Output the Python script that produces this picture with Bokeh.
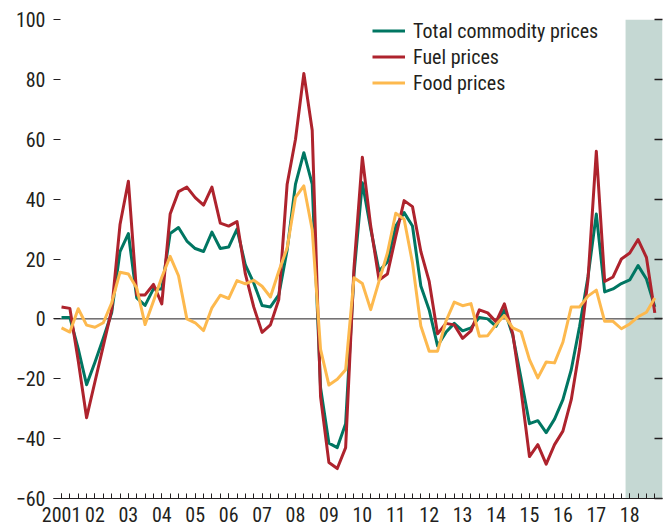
from bokeh.plotting import figure
from bokeh.models import (FixedTicker, LinearAxis, Range1d, BoxAnnotation, Span,
                          Legend, LegendItem)
from bokeh.embed import file_html
from bokeh.resources import INLINE

# ---------------- data (quarterly, percent change y/y) ----------------
first_year = 2001
n_quarters = 72  # 2001Q1 .. 2018Q4
quarters = [f"{first_year + i // 4}Q{i % 4 + 1}" for i in range(n_quarters)]

total_commodity = [
    0.5, 0.5, -10, -22, -14.5, -6.5, 2, 22.5, 28.5, 7,
    4.5, 10, 10, 28.5, 30.5, 26, 23.5, 22.5, 29, 23.5,
    24, 30, 18, 12, 4.5, 4, 8, 23, 45, 55.5,
    45, -23, -41.5, -43, -35, 15, 45.5, 30, 16, 19,
    31, 35.5, 31, 11, 3, -9, -4.5, -1.5, -4, -3,
    0.5, 0, -2.5, 3, -5.5, -20, -35, -34, -38, -33.5,
    -27, -17, -2.5, 14, 35, 9, 10, 11.8, 13, 17.8,
    13.3, 4,
]
fuel = [
    4, 3.5, -14, -33, -21, -9, 3, 31.5, 46, 8,
    8, 11.5, 5, 35, 42.5, 44, 40.5, 38, 44, 32,
    31, 32.5, 15, 4, -4.5, -2, 6.5, 45, 60, 82,
    63, -26, -48, -50, -43, 17, 54, 31, 13, 15,
    27.5, 39.5, 37.5, 22.5, 12.5, -5, -1.5, -2, -6.5, -4,
    3, 2, -1, 5, -5, -24, -46, -42, -48.5, -42,
    -37.5, -27, -10, 13, 56, 12.5, 14, 20, 22, 26.5,
    20.5, 2,
]
food = [
    -3, -4.4, 3.4, -2.1, -2.8, -1.3, 5.3, 15.6, 15, 10.3,
    -1.9, 5.9, 13.9, 20.9, 14.4, 0, -1.3, -3.9, 3.7, 7.9,
    6.8, 12.8, 11.7, 12.9, 10.9, 7.3, 15.9, 23.7, 40.6, 44.4,
    29.8, -10.2, -22.1, -20.2, -17, 13.7, 11.8, 3.1, 12.6, 22,
    35.3, 33.3, 18.7, -2.4, -10.8, -10.8, -0.8, 5.6, 4.4, 5.1,
    -5.8, -5.6, -1.9, 1.1, -3, -4.3, -13.6, -19.7, -14.4, -14.7,
    -7.8, 4, 4, 7.6, 9.6, -0.8, -0.8, -3.3, -1.7, 0.7,
    2.2, 7,
]
series_names = ["Total commodity prices", "Fuel prices", "Food prices"]
projection_start = "2018Q1"

year_ticks = list(range(2001, 2019))
year_labels = ["2001"] + [f"{y % 100:02d}" for y in year_ticks[1:]]
y_ticks = [-60, -40, -20, 0, 20, 40, 60, 80, 100]
y_labels = [str(v).replace("-", "\u2212") for v in y_ticks]


def q_to_x(q):
    return int(q[:4]) + (int(q[-1]) - 1) / 4


x = [q_to_x(q) for q in quarters]

# ---------------- styling ----------------
FONT = "'Roboto Condensed', 'DejaVu Sans Condensed', 'Liberation Sans'"
TEXT = "#231F20"
FS = "20px"
colors = ["#007662", "#AE232D", "#FDB94E"]

p = figure(width=666, height=529, output_backend="svg", toolbar_location=None,
           x_range=Range1d(2000.76, 2018.98), y_range=Range1d(-60, 100),
           min_border_left=53, min_border_right=4, min_border_top=19,
           min_border_bottom=31)
p.outline_line_color = None
p.xgrid.grid_line_color = None
p.ygrid.grid_line_color = None
p.background_fill_color = "white"
p.border_fill_color = "white"

# projection shading
p.add_layout(BoxAnnotation(left=q_to_x(projection_start) - 0.125, fill_color="#C5D8D3",
                           fill_alpha=1.0, line_color=None, level="underlay"))
p.add_layout(Span(location=0, dimension="width", line_color=TEXT, line_width=1,
                  level="underlay"))

renderers = []
for ys, c in zip([total_commodity, fuel, food], colors):
    r = p.line(x, ys, line_color=c, line_width=3, line_join="round")
    renderers.append(r)

# x axis
xa = p.xaxis[0]
xa.ticker = FixedTicker(ticks=year_ticks, minor_ticks=x)
xa.major_label_overrides = dict(zip(year_ticks, year_labels))
xa.axis_line_color = TEXT
xa.axis_line_width = 1.2
xa.major_tick_in = 5
xa.major_tick_out = 0
xa.minor_tick_in = 5
xa.minor_tick_out = 0
xa.major_tick_line_color = TEXT
xa.minor_tick_line_color = TEXT
xa.major_label_standoff = 8
xa.major_label_text_font = FONT
xa.major_label_text_font_size = FS
xa.major_label_text_color = TEXT

# left y axis
ya = p.yaxis[0]
ya.ticker = FixedTicker(ticks=y_ticks)
ya.major_label_overrides = dict(zip(y_ticks, y_labels))
ya.axis_line_color = None
ya.major_tick_in = 7
ya.major_tick_out = 0
ya.minor_tick_line_color = None
ya.major_tick_line_color = TEXT
ya.major_tick_line_width = 1.2
ya.major_label_standoff = 8
ya.major_label_text_font = FONT
ya.major_label_text_font_size = FS
ya.major_label_text_color = TEXT

# right y axis (ticks only)
ra = LinearAxis(ticker=FixedTicker(ticks=y_ticks),
                major_label_overrides={t: "" for t in y_ticks})
ra.axis_line_color = None
ra.major_tick_in = 8
ra.major_tick_out = 0
ra.minor_tick_line_color = None
ra.major_tick_line_color = TEXT
ra.major_tick_line_width = 1.5
ra.major_label_standoff = 0
ra.major_label_text_font_size = "1px"
p.add_layout(ra, "right")

legend = Legend(items=[LegendItem(label=n, renderers=[r]) for n, r in zip(series_names, renderers)],
                location=(319, 403), orientation="vertical",
                background_fill_alpha=0, border_line_color=None,
                label_text_font=FONT, label_text_font_size=FS, label_text_color=TEXT,
                glyph_width=33, glyph_height=25, label_height=25, spacing=1,
                label_standoff=8, padding=0, margin=0)
p.add_layout(legend)

open("out.html", "w").write(file_html(p, INLINE))
